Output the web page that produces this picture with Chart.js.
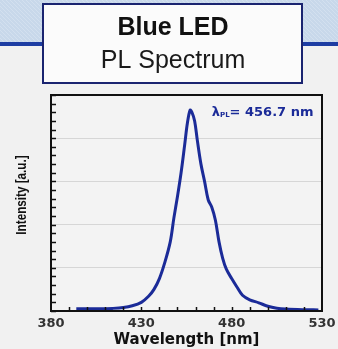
<!DOCTYPE html>
<html>
<head>
<meta charset="utf-8">
<script src="https://cdn.jsdelivr.net/npm/chart.js@4.4.1/dist/chart.umd.min.js"></script>
<style>
  html, body { margin: 0; padding: 0; background: #f1f1f1; }
  #wrap { width: 338px; height: 349px; position: relative; }
</style>
</head>
<body>
<div id="wrap"><canvas id="myCanvasPL"></canvas></div>
<script>
// spectrum
var wavelengths = [394, 400, 407, 414, 420, 425, 430, 434, 437, 440, 443, 446, 448, 450, 452, 454, 455.5, 457, 458, 459.5, 461, 463, 465, 467, 469, 471, 473, 475, 477, 480, 483, 486, 490, 495, 500, 505, 510, 520, 528];
var intensity = [0.010, 0.010, 0.010, 0.012, 0.016, 0.024, 0.040, 0.068, 0.100, 0.150, 0.225, 0.320, 0.430, 0.530, 0.640, 0.770, 0.870, 0.930, 0.920, 0.880, 0.790, 0.680, 0.600, 0.515, 0.480, 0.420, 0.320, 0.245, 0.195, 0.150, 0.110, 0.073, 0.052, 0.038, 0.022, 0.013, 0.009, 0.006, 0.005];

var xTicks = [380, 430, 480, 530];
var yGrid = [0, 0.2, 0.4, 0.6, 0.8, 1.0];

var tituloLinha1 = 'Blue LED';
var tituloLinha2 = 'PL Spectrum';
var tituloY = 'Intensity [a.u.]';
var picoSimbolo = 'λ';
var picoIndice = 'PL';
var picoTexto = '= 456.7 nm';
var picoPos = { x: 469, y: 0.92 };

var azul = '#1b2b98';

var pontos = [];
for (var i = 0; i < wavelengths.length; i++) {
    pontos.push({ x: wavelengths[i], y: intensity[i] });
}

// background: hatched blue band, blue rule, white title box
var fundoPlugin = {
    id: 'fundo',
    beforeDraw: function(chart) {
        var ctx = chart.ctx;
        var w = chart.width, h = chart.height;
        ctx.save();
        ctx.fillStyle = '#f1f1f1';
        ctx.fillRect(0, 0, w, h);

        ctx.fillStyle = '#c8d8ea';
        ctx.fillRect(0, 0, w, 42);
        ctx.strokeStyle = 'rgba(222,232,243,0.5)';
        ctx.lineWidth = 1;
        ctx.beginPath();
        for (var k = -50; k < w + 50; k += 4) {
            ctx.moveTo(k, 0);
            ctx.lineTo(k + 42, 42);
        }
        ctx.stroke();

        ctx.fillStyle = '#1d3da3';
        ctx.fillRect(0, 42, w, 4);

        ctx.fillStyle = '#fbfbfb';
        ctx.fillRect(43, 4, 259, 79);
        ctx.strokeStyle = '#1a2470';
        ctx.lineWidth = 2;
        ctx.strokeRect(43, 4, 259, 79);

        var a = chart.chartArea;
        ctx.fillStyle = '#f3f3f3';
        ctx.fillRect(a.left, a.top, a.right - a.left, a.bottom - a.top);
        ctx.restore();
    }
};

// frame, inner minor ticks, y title and peak label
var moldura = {
    id: 'moldura',
    afterDatasetsDraw: function(chart) {
        var ctx = chart.ctx;
        var a = chart.chartArea;
        var xs = chart.scales.x, ys = chart.scales.y;
        ctx.save();
        ctx.strokeStyle = '#111';
        ctx.lineWidth = 1.5;
        ctx.beginPath();
        for (var v = 0; v <= 1.0001; v += 0.04) {
            var py = Math.round(ys.getPixelForValue(v)) + 0.5;
            ctx.moveTo(a.left, py);
            ctx.lineTo(a.left + 5, py);
        }
        for (var q = 390; q < 530; q += 10) {
            var px = Math.round(xs.getPixelForValue(q)) + 0.5;
            ctx.moveTo(px, a.bottom);
            ctx.lineTo(px, a.bottom - 4);
        }
        ctx.stroke();

        ctx.strokeStyle = '#111';
        ctx.lineWidth = 2;
        ctx.strokeRect(a.left, a.top, a.right - a.left, a.bottom - a.top);

        // narrow bold y title
        ctx.save();
        ctx.translate(22, 195);
        ctx.rotate(-Math.PI / 2);
        ctx.scale(0.78, 1);
        ctx.fillStyle = '#111';
        ctx.textAlign = 'center';
        ctx.textBaseline = 'middle';
        ctx.font = 'bold 15px "Liberation Sans"';
        ctx.fillText(tituloY, 0, 0);
        ctx.restore();

        var tx = xs.getPixelForValue(picoPos.x);
        var ty = ys.getPixelForValue(picoPos.y);
        ctx.fillStyle = azul;
        ctx.textBaseline = 'middle';
        ctx.textAlign = 'left';
        ctx.font = 'bold 13px "DejaVu Sans"';
        ctx.fillText(picoSimbolo, tx, ty);
        tx += ctx.measureText(picoSimbolo).width;
        ctx.font = 'bold 7px "DejaVu Sans"';
        ctx.fillText(picoIndice, tx, ty + 3);
        tx += ctx.measureText(picoIndice).width;
        ctx.font = 'bold 13px "DejaVu Sans"';
        ctx.fillText(picoTexto, tx, ty);
        ctx.restore();
    }
};

var grafico = new Chart(document.getElementById('myCanvasPL'), {
    type: 'line',
    data: {
        datasets: [{
            data: pontos,
            borderColor: azul,
            borderWidth: 3,
            pointRadius: 0,
            tension: 0.35,
            fill: false
        }]
    },
    options: {
        responsive: true,
        maintainAspectRatio: false,
        animation: false,
        layout: { padding: { left: 8, right: 0, top: 0, bottom: 0 } },
        plugins: {
            legend: { display: false },
            tooltip: { enabled: false },
            title: {
                display: true,
                text: tituloLinha1,
                color: '#111',
                font: { family: 'Liberation Sans', size: 25, weight: 'bold', lineHeight: 1 },
                padding: { top: 16, bottom: 0 }
            },
            subtitle: {
                display: true,
                text: tituloLinha2,
                color: '#1a1a1a',
                font: { family: 'Liberation Sans', size: 25, weight: 'normal', lineHeight: 1 },
                padding: { top: 8, bottom: 21 }
            }
        },
        scales: {
            x: {
                type: 'linear',
                min: 380,
                max: 530,
                afterBuildTicks: function(scale) {
                    scale.ticks = xTicks.map(function(v) { return { value: v }; });
                },
                afterFit: function(scale) {
                    scale.paddingRight = 16;
                },
                grid: { display: false, drawTicks: false },
                border: { display: false },
                ticks: {
                    color: '#333',
                    padding: 0,
                    font: { family: 'DejaVu Sans', size: 13, weight: 'bold', lineHeight: 2 }
                },
                title: {
                    display: true,
                    text: 'Wavelength [nm]',
                    color: '#111',
                    font: { family: 'DejaVu Sans', size: 15, weight: 'bold', lineHeight: 1 },
                    padding: { top: -4, bottom: 1 }
                }
            },
            y: {
                min: 0,
                max: 1,
                afterBuildTicks: function(scale) {
                    scale.ticks = yGrid.map(function(v) { return { value: v }; });
                },
                afterFit: function(scale) {
                    scale.width = 43;
                },
                grid: { color: '#d6d6d6', lineWidth: 1, drawTicks: false },
                border: { display: false },
                ticks: { display: false }
            }
        }
    },
    plugins: [fundoPlugin, moldura]
});
</script>
</body>
</html>
